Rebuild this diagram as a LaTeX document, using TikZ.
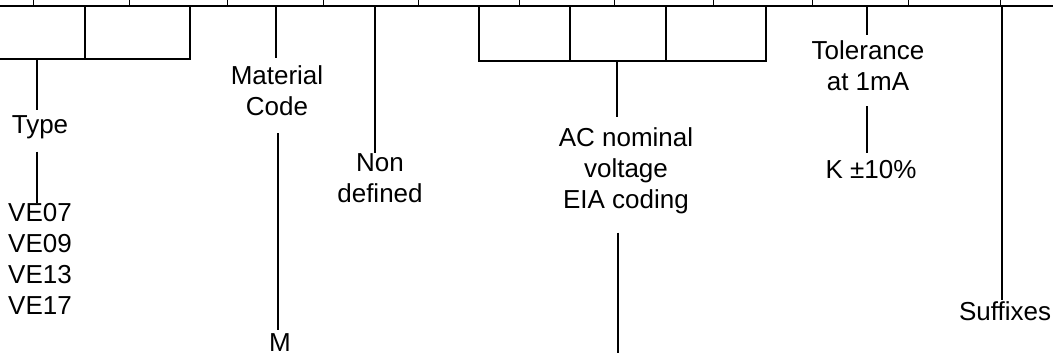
\documentclass[tikz,border=0pt]{standalone}
\usepackage{fontspec}
\setmainfont{Liberation Sans}
\usepackage{tikz}
\usetikzlibrary{calc, positioning}

\tikzset{
    lbl/.style={font=\fontsize{26}{31}\selectfont, align=center, inner sep=0pt, anchor=north},
    cell/.style={line width=2pt},
    lead/.style={line width=2.2pt}
}

\begin{document}
\begin{tikzpicture}[x=1pt, y=-1pt]
    \useasboundingbox (0,0) rectangle (1053,353);
    
    % 1. Thanh ngang trên cùng và các vạch nhỏ
    \draw[line width=2.6pt] (-2,6) -- (1056,6);
    \foreach \x in {33,129,227,323,418,519,614,713,812,908,1000} {
        \draw[line width=1pt] (\x,-1) -- (\x,6);
    }
    
    % 2. Các ô ký tự
    \draw[cell] (-3,59) -- (190,59) -- (190,6);
    \draw[cell] (85,6) -- (85,59);
    \draw[cell] (479,6) -- (479,61) -- (766,61) -- (766,6);
    \foreach \x in {570,666} {
        \draw[cell] (\x,6) -- (\x,61);
    }
    
    % 3. Các nhãn
    \node[lbl] (type) at (40,115) {Type};
    \node[lbl, anchor=north west, align=left] (ve) at (8,203) {VE07\\VE09\\VE13\\VE17};
    \node[lbl] (mat) at (277,65) {Material\\Code};
    \node[lbl] (m) at (280,333) {M};
    \node[lbl] (non) at (380,153) {Non\\defined};
    \node[lbl] (ac) at (626,127) {AC nominal\\voltage\\EIA coding};
    \node[lbl] (tol) at (868,40) {Tolerance\\at 1mA};
    \node[lbl] (k) at (871,160) {K ±10\%};
    \node[lbl] (suf) at (1005,301) {Suffixes};
    
    % 4. Các đường dẫn
    \coordinate (typ-top) at (37,59);
    \coordinate (mat-top) at (276,6);
    \coordinate (non-top) at (375,6);
    \coordinate (ac-top) at (617,61);
    \coordinate (ac-end) at (618,356);
    \coordinate (tol-top) at (867,6);
    \coordinate (suf-top) at (1002,6);
    \draw[lead, shorten >=5pt] (typ-top) -- (typ-top |- type.north);
    \draw[lead, shorten <=13pt] (typ-top |- type.south) -- (typ-top |- ve.north);
    \draw[lead, shorten >=7pt] (mat-top) -- (mat-top |- mat.north);
    \draw[lead, shorten <=18pt, shorten >=3pt] ($(mat.south)+(1,0)$) -- ($(mat.south |- m.north)+(1,0)$);
    \draw[lead] (non-top) -- (non-top |- non.north);
    \draw[lead, shorten >=10pt] (ac-top) -- (ac-top |- ac.north);
    \draw[lead, shorten <=19pt] (ac-end |- ac.south) -- (ac-end);
    \draw[lead, shorten >=5pt] (tol-top) -- (tol-top |- tol.north);
    \draw[lead, shorten <=16pt, shorten >=7pt] (tol-top |- tol.south) -- (tol-top |- k.north);
    \draw[lead, shorten >=1pt] (suf-top) -- (suf-top |- suf.north);
\end{tikzpicture}
\end{document}
